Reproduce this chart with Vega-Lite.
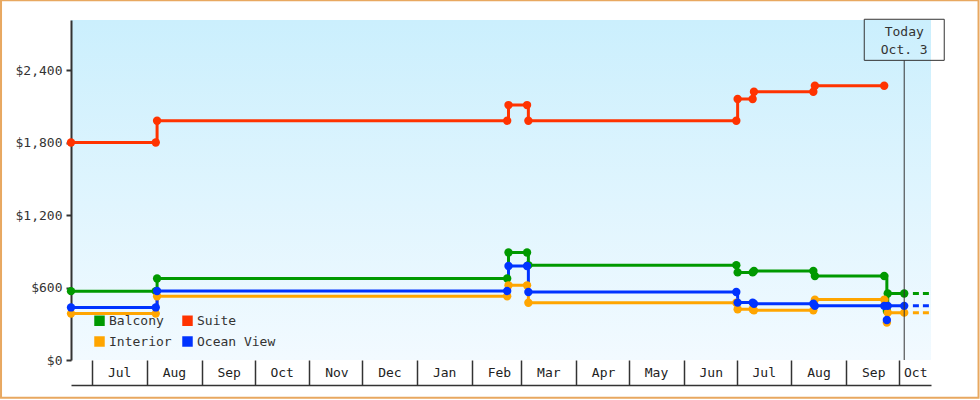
{
  "$schema": "https://vega.github.io/schema/vega-lite/v6.json",
  "width": 860,
  "height": 340,
  "autosize": {"type": "none"},
  "padding": {"left": 71, "top": 20, "right": 49, "bottom": 40},
  "background": "white",
  "config": {
    "view": {
      "stroke": null,
      "fill": {"gradient": "linear", "x1": 0, "y1": 0, "x2": 0, "y2": 1,
        "stops": [{"offset": 0, "color": "#cbeffd"}, {"offset": 1, "color": "#f2faff"}]}
    },
    "font": "DejaVu Sans Mono"
  },
  "data": {"values": [
    {"date": "2014/06/19 00:00", "series": "Balcony", "price": 570, "part": "hist"},
    {"date": "2014/08/06 00:00", "series": "Balcony", "price": 570, "part": "hist"},
    {"date": "2014/08/06 18:00", "series": "Balcony", "price": 675, "part": "hist"},
    {"date": "2015/02/21 00:00", "series": "Balcony", "price": 675, "part": "hist"},
    {"date": "2015/02/21 18:00", "series": "Balcony", "price": 890, "part": "hist"},
    {"date": "2015/03/04 06:00", "series": "Balcony", "price": 890, "part": "hist"},
    {"date": "2015/03/05 00:00", "series": "Balcony", "price": 785, "part": "hist"},
    {"date": "2015/06/30 18:00", "series": "Balcony", "price": 785, "part": "hist"},
    {"date": "2015/07/01 12:00", "series": "Balcony", "price": 725, "part": "hist"},
    {"date": "2015/07/10 00:00", "series": "Balcony", "price": 725, "part": "hist"},
    {"date": "2015/07/10 18:00", "series": "Balcony", "price": 737, "part": "hist"},
    {"date": "2015/08/13 09:00", "series": "Balcony", "price": 737, "part": "hist"},
    {"date": "2015/08/14 06:00", "series": "Balcony", "price": 695, "part": "hist"},
    {"date": "2015/09/22 12:00", "series": "Balcony", "price": 695, "part": "hist"},
    {"date": "2015/09/24 00:00", "series": "Balcony", "price": 405, "part": "hist"},
    {"date": "2015/09/24 12:00", "series": "Balcony", "price": 550, "part": "hist"},
    {"date": "2015/10/03 20:00", "series": "Balcony", "price": 550, "part": "hist"},
    {"date": "2015/10/08 18:00", "series": "Balcony", "price": 550, "part": "proj"},
    {"date": "2015/10/19 00:00", "series": "Balcony", "price": 550, "part": "proj"},

    {"date": "2014/06/19 00:00", "series": "Suite", "price": 1800, "part": "hist"},
    {"date": "2014/08/06 00:00", "series": "Suite", "price": 1800, "part": "hist"},
    {"date": "2014/08/06 18:00", "series": "Suite", "price": 1980, "part": "hist"},
    {"date": "2015/02/21 00:00", "series": "Suite", "price": 1980, "part": "hist"},
    {"date": "2015/02/21 18:00", "series": "Suite", "price": 2110, "part": "hist"},
    {"date": "2015/03/04 06:00", "series": "Suite", "price": 2110, "part": "hist"},
    {"date": "2015/03/05 00:00", "series": "Suite", "price": 1980, "part": "hist"},
    {"date": "2015/06/30 18:00", "series": "Suite", "price": 1980, "part": "hist"},
    {"date": "2015/07/01 12:00", "series": "Suite", "price": 2160, "part": "hist"},
    {"date": "2015/07/10 00:00", "series": "Suite", "price": 2160, "part": "hist"},
    {"date": "2015/07/10 18:00", "series": "Suite", "price": 2220, "part": "hist"},
    {"date": "2015/08/13 09:00", "series": "Suite", "price": 2220, "part": "hist"},
    {"date": "2015/08/14 06:00", "series": "Suite", "price": 2270, "part": "hist"},
    {"date": "2015/09/22 12:00", "series": "Suite", "price": 2270, "part": "hist"},

    {"date": "2014/06/19 00:00", "series": "Interior", "price": 384, "part": "hist"},
    {"date": "2014/08/06 00:00", "series": "Interior", "price": 384, "part": "hist"},
    {"date": "2014/08/06 18:00", "series": "Interior", "price": 527, "part": "hist"},
    {"date": "2015/02/21 00:00", "series": "Interior", "price": 527, "part": "hist"},
    {"date": "2015/02/21 18:00", "series": "Interior", "price": 618, "part": "hist"},
    {"date": "2015/03/04 06:00", "series": "Interior", "price": 618, "part": "hist"},
    {"date": "2015/03/05 00:00", "series": "Interior", "price": 474, "part": "hist"},
    {"date": "2015/06/30 18:00", "series": "Interior", "price": 474, "part": "hist"},
    {"date": "2015/07/01 12:00", "series": "Interior", "price": 420, "part": "hist"},
    {"date": "2015/07/10 00:00", "series": "Interior", "price": 420, "part": "hist"},
    {"date": "2015/07/10 18:00", "series": "Interior", "price": 411, "part": "hist"},
    {"date": "2015/08/13 09:00", "series": "Interior", "price": 411, "part": "hist"},
    {"date": "2015/08/14 06:00", "series": "Interior", "price": 500, "part": "hist"},
    {"date": "2015/09/22 12:00", "series": "Interior", "price": 500, "part": "hist"},
    {"date": "2015/09/24 00:00", "series": "Interior", "price": 310, "part": "hist"},
    {"date": "2015/09/24 12:00", "series": "Interior", "price": 392, "part": "hist"},
    {"date": "2015/10/03 20:00", "series": "Interior", "price": 392, "part": "hist"},
    {"date": "2015/10/08 18:00", "series": "Interior", "price": 392, "part": "proj"},
    {"date": "2015/10/19 00:00", "series": "Interior", "price": 392, "part": "proj"},

    {"date": "2014/06/19 00:00", "series": "Ocean View", "price": 435, "part": "hist"},
    {"date": "2014/08/06 00:00", "series": "Ocean View", "price": 435, "part": "hist"},
    {"date": "2014/08/06 18:00", "series": "Ocean View", "price": 571, "part": "hist"},
    {"date": "2015/02/21 00:00", "series": "Ocean View", "price": 571, "part": "hist"},
    {"date": "2015/02/21 18:00", "series": "Ocean View", "price": 778, "part": "hist"},
    {"date": "2015/03/04 06:00", "series": "Ocean View", "price": 778, "part": "hist"},
    {"date": "2015/03/05 00:00", "series": "Ocean View", "price": 563, "part": "hist"},
    {"date": "2015/06/30 18:00", "series": "Ocean View", "price": 563, "part": "hist"},
    {"date": "2015/07/01 12:00", "series": "Ocean View", "price": 475, "part": "hist"},
    {"date": "2015/07/10 00:00", "series": "Ocean View", "price": 475, "part": "hist"},
    {"date": "2015/07/10 18:00", "series": "Ocean View", "price": 466, "part": "hist"},
    {"date": "2015/08/13 09:00", "series": "Ocean View", "price": 466, "part": "hist"},
    {"date": "2015/08/14 06:00", "series": "Ocean View", "price": 448, "part": "hist"},
    {"date": "2015/09/22 12:00", "series": "Ocean View", "price": 448, "part": "hist"},
    {"date": "2015/09/24 00:00", "series": "Ocean View", "price": 331, "part": "hist"},
    {"date": "2015/09/24 12:00", "series": "Ocean View", "price": 448, "part": "hist"},
    {"date": "2015/10/03 20:00", "series": "Ocean View", "price": 448, "part": "hist"},
    {"date": "2015/10/08 18:00", "series": "Ocean View", "price": 448, "part": "proj"},
    {"date": "2015/10/19 00:00", "series": "Ocean View", "price": 448, "part": "proj"}
  ]},
  "layer": [
    {
      "transform": [{"filter": "datum.part == 'hist'"}],
      "mark": {"type": "line", "interpolate": "step-after", "strokeWidth": 3},
      "encoding": {
        "x": {
          "field": "date", "type": "temporal",
          "scale": {"domain": [{"year": 2014, "month": 6, "date": 19}, {"year": 2015, "month": 10, "date": 19}]},
          "axis": {
            "title": null, "orient": "bottom", "offset": 25, "grid": false,
            "domain": true, "domainColor": "#333", "domainWidth": 1.5,
            "ticks": true, "tickSize": -25, "tickColor": "#333", "tickWidth": 1.5,
            "tickCount": {"interval": "month", "step": 1},
            "format": "%b", "labelFont": "DejaVu Sans Mono", "labelFontSize": 13, "labelColor": "#222",
            "labelPadding": 6, "labelFlush": false, "labelOverlap": false, "labelBound": false,
            "labelOffset": {"condition": {"test": "year(datum.value) == 2015 && month(datum.value) == 9", "value": 16}, "value": 27}
          }
        },
        "y": {
          "field": "price", "type": "quantitative",
          "scale": {"domain": [0, 2814], "nice": false},
          "axis": {
            "title": null, "grid": false, "values": [0, 600, 1200, 1800, 2400], "format": "$,.0f",
            "domainColor": "#333", "domainWidth": 2, "tickColor": "#333", "tickWidth": 2, "tickSize": 5,
            "labelFont": "DejaVu Sans Mono", "labelFontSize": 13, "labelColor": "#333", "labelPadding": 4
          }
        },
        "color": {
          "field": "series", "type": "nominal",
          "scale": {"domain": ["Balcony", "Suite", "Interior", "Ocean View"], "range": ["#009900", "#ff3300", "#ffa500", "#0033ff"]},
          "legend": {
            "title": null, "orient": "none", "legendX": 22, "legendY": 294, "columns": 2, "direction": "horizontal",
            "symbolType": "square", "symbolSize": 110, "symbolStrokeWidth": 0,
            "labelFont": "DejaVu Sans Mono", "labelFontSize": 13, "labelColor": "#333", "labelOffset": 3,
            "columnPadding": 9, "rowPadding": 7, "padding": 0,
            "encode": {"symbols": {"update": {"fill": {"scale": "color", "field": "value"}, "opacity": {"value": 1}}}}
          }
        }
      }
    },
    {
      "transform": [{"filter": "datum.part == 'hist'"}],
      "mark": {"type": "point", "filled": true, "shape": "circle", "size": 70, "opacity": 1},
      "encoding": {
        "x": {"field": "date", "type": "temporal"},
        "y": {"field": "price", "type": "quantitative"},
        "color": {"field": "series", "type": "nominal"}
      }
    },
    {
      "transform": [{"filter": "datum.part == 'proj'"}],
      "mark": {"type": "line", "strokeWidth": 3, "strokeDash": [6, 4]},
      "encoding": {
        "x": {"field": "date", "type": "temporal"},
        "y": {"field": "price", "type": "quantitative"},
        "color": {"field": "series", "type": "nominal"}
      }
    },
    {
      "data": {"values": [{}]},
      "mark": {"type": "rule", "color": "#333", "strokeWidth": 1},
      "encoding": {
        "x": {"datum": {"year": 2015, "month": 10, "date": 3, "hours": 20}, "type": "temporal"},
        "y": {"datum": 0, "type": "quantitative"},
        "y2": {"datum": 2480}
      }
    },
    {
      "data": {"values": [{}]},
      "mark": {"type": "rect", "filled": false, "stroke": "#333", "strokeWidth": 1},
      "encoding": {
        "x": {"datum": {"year": 2015, "month": 9, "date": 11, "hours": 5}, "type": "temporal"},
        "x2": {"datum": {"year": 2015, "month": 10, "date": 26, "hours": 12}},
        "y": {"datum": 2480, "type": "quantitative"},
        "y2": {"datum": 2820}
      }
    },
    {
      "data": {"values": [{}]},
      "mark": {"type": "text", "text": ["Today", "Oct. 3"], "align": "center", "baseline": "middle", "font": "DejaVu Sans Mono", "fontSize": 13, "color": "#333", "lineHeight": 18},
      "encoding": {
        "x": {"datum": {"year": 2015, "month": 10, "date": 3, "hours": 20}, "type": "temporal"},
        "y": {"datum": 2718, "type": "quantitative"}
      }
    },
    {
      "data": {"values": [{}]},
      "mark": {"type": "rect", "filled": false, "stroke": "#e8a860", "strokeWidth": 2},
      "encoding": {
        "x": {"datum": {"year": 2014, "month": 5, "date": 10, "hours": 9}, "type": "temporal"},
        "x2": {"datum": {"year": 2015, "month": 11, "date": 14, "hours": 22}},
        "y": {"datum": 2977, "type": "quantitative"},
        "y2": {"datum": -313}
      }
    }
  ]
}
